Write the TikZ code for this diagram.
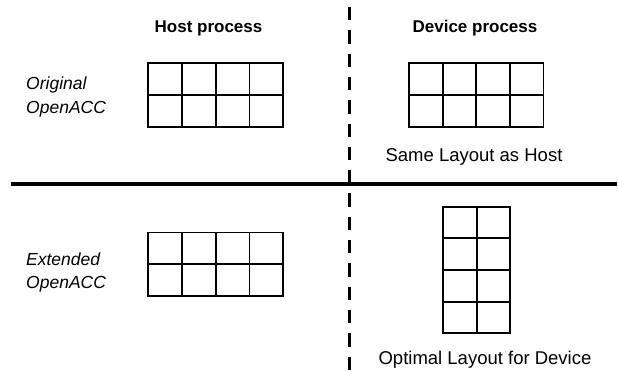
\documentclass[tikz,border=0pt]{standalone}
\usepackage{fontspec}
\setmainfont{Liberation Sans}
\tikzset{
  cellline/.style={line width=1.8pt, line cap=rect},
  heading/.style={font=\fontsize{17}{20}\selectfont\bfseries, anchor=base, inner sep=0pt},
  caption/.style={font=\fontsize{18.5}{22}\selectfont, anchor=base, inner sep=0pt},
  rowlabel/.style={font=\fontsize{17.5}{23.5}\selectfont\itshape, anchor=base west, inner sep=0pt, align=left},
  divider/.style={line width=3.3pt},
  splitter/.style={line width=3pt, dash pattern=on 13.3pt off 10pt}
}
% \layoutgrid{left}{top}{cols}{rows}{cell width}{cell height}
\newcommand\layoutgrid[6]{%
  \foreach \c in {0,...,#3} \draw[cellline] ({#1+\c*#5},#2) -- ({#1+\c*#5},{#2+#4*#6});
  \foreach \r in {0,...,#4} \draw[cellline] (#1,{#2+\r*#6}) -- ({#1+#3*#5},{#2+\r*#6});
}
\begin{document}
\begin{tikzpicture}[x=1pt, y=-1pt]
  \useasboundingbox (0,0) rectangle (618,370);

  % separators
  \coordinate (divL) at (11,184);
  \coordinate (divR) at (617,184);
  \coordinate (splitT) at (349,7);
  \coordinate (splitB) at (349,372);
  \draw[divider] (divL) -- (divR);
  \draw[splitter] (splitT) -- (splitB);

  % column headings
  \node[heading] (hosthead) at (208.5,32.5) {Host process};
  \node[heading] (devhead) at (475,32.5) {Device process};

  % row labels (anchored on the baseline of the last line)
  \node[rowlabel] (orig) at (26,113) {Original\\OpenACC};
  \node[rowlabel] (ext) at (26,288.5) {Extended\\OpenACC};

  % array layouts
  \layoutgrid{148.3}{62.8}{4}{2}{33.75}{32}
  \layoutgrid{409}{62.8}{4}{2}{33.6}{32}
  \layoutgrid{148.3}{232.5}{4}{2}{33.75}{31.8}
  \layoutgrid{443.3}{206.7}{2}{4}{33.4}{31.65}

  % layout captions
  \node[caption] (same) at (474,161) {Same Layout as Host};
  \node[caption] (optimal) at (485,364.5) {Optimal Layout for Device};
\end{tikzpicture}
\end{document}
